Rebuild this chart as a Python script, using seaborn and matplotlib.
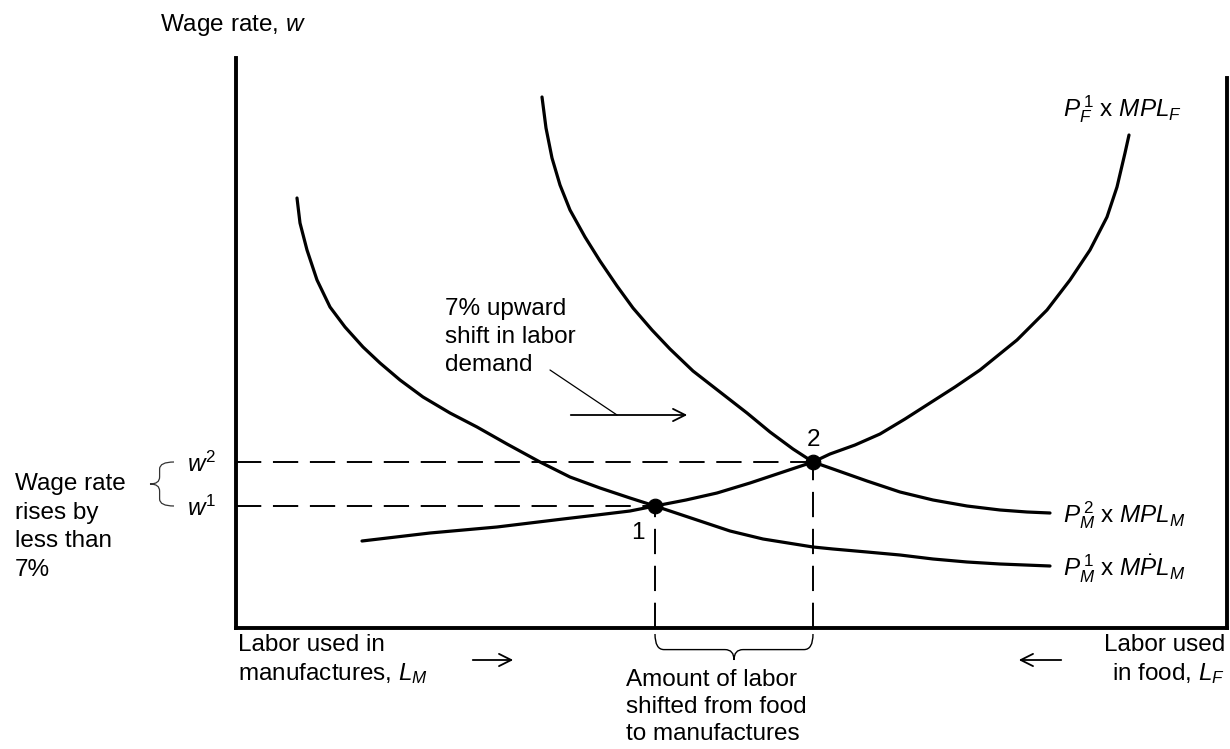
import matplotlib.pyplot as plt
from matplotlib.path import Path
from matplotlib.patches import PathPatch
import seaborn as sns

# Curve readings from the figure (x = labour, y = wage; arbitrary plot units)
food_L = [126, 194, 261, 327, 361, 394, 419, 450, 481, 514, 547, 577, 594, 619, 644, 669,
          694, 719, 744, 781, 811, 834, 854, 871, 881, 889, 893]
food_w = [87, 95, 101, 109, 113, 117, 122, 128, 135, 145, 156, 166, 174, 183, 194, 209,
          225, 241, 258, 288, 318, 348, 378, 411, 441, 475, 493]

manu1_L = [61, 64, 71, 81, 94, 109, 127, 144, 164, 187, 214, 241, 271, 304, 334, 364, 394,
           419, 461, 494, 527, 577, 597, 631, 664, 697, 731, 764, 814]
manu1_w = [430, 405, 378, 348, 321, 301, 281, 265, 248, 231, 215, 201, 184, 166, 151, 140, 130,
           122, 108, 97, 89, 81, 79, 76, 73, 69, 66, 64, 62]

manu2_L = [306, 310, 316, 324, 334, 349, 364, 381, 397, 416, 434, 457, 484, 511, 534, 557,
           577, 597, 631, 664, 697, 731, 764, 791, 814]
manu2_w = [531, 500, 470, 443, 418, 391, 367, 342, 320, 298, 279, 257, 236, 215, 196, 179,
           166, 159, 147, 136, 128, 122, 118, 116, 115]

# equilibria 1 and 2
eq_L = [419, 577]
eq_w = [122, 166]
eq_names = ["1", "2"]
w_labels = [r"$w^1$", r"$w^2$"]

sns.set_style("white")
plt.rcParams["font.family"] = ["Liberation Sans", "DejaVu Sans"]
plt.rcParams["text.color"] = "black"
plt.rcParams["ytick.color"] = "black"
plt.rcParams["mathtext.fontset"] = "custom"
plt.rcParams["mathtext.rm"] = "Liberation Sans"
plt.rcParams["mathtext.it"] = "Liberation Sans:italic"
plt.rcParams["mathtext.bf"] = "Liberation Sans:bold"

FS = 17.5
fig = plt.figure(figsize=(12.3, 7.49), dpi=100)
ax = fig.add_axes([236 / 1230, 121 / 749, 991 / 1230, 570 / 749])
ax.set_xlim(0, 991)
ax.set_ylim(0, 570)

# curves
for L, w in [(food_L, food_w), (manu1_L, manu1_w), (manu2_L, manu2_w)]:
    sns.lineplot(x=L, y=w, sort=False, estimator=None, color="black", lw=2.3, ax=ax)

# dashed guides
dash = (0, (13, 6))
ax.hlines(eq_w, 0, eq_L, colors="black", lw=1.4, linestyles=[dash])
ax.vlines(eq_L, 0, eq_w, colors="black", lw=1.4, linestyles=[dash])

sns.scatterplot(x=eq_L, y=eq_w, color="black", s=110, zorder=5, ax=ax, edgecolor="black")
ax.text(eq_L[0] - 17, eq_w[0] - 27, eq_names[0], fontsize=FS, ha="center", va="center")
ax.text(eq_L[1], eq_w[1] + 22, eq_names[1], fontsize=FS, ha="center", va="center")

# spines and ticks
ax.spines["top"].set_visible(False)
for s in ["left", "bottom", "right"]:
    ax.spines[s].set_linewidth(2.8)
    ax.spines[s].set_color("black")
ax.spines["right"].set_bounds(0, 550)
ax.set_xticks([])
ax.set_yticks(eq_w)
ax.set_yticklabels(w_labels, fontsize=FS)
ax.tick_params(axis="y", direction="inout", length=13, width=1.5, pad=8)

# curve labels
ax.text(827, 519, r"$P^{\,1}_{F}$ x $MPL_F$", fontsize=FS, va="center")
ax.text(827, 113, r"$P^{\,2}_{M}$ x $MPL_M$", fontsize=FS, va="center")
ax.text(827, 59, r"$P^{\,1}_{M}$ x $M\dot{P}L_M$", fontsize=FS, va="center")

# shift annotation
ax.text(209, 291, "7% upward\nshift in labor\ndemand", fontsize=FS, va="center", linespacing=1.38)
ax.plot([314, 381], [258, 213], color="black", lw=0.9)
ax.annotate("", xy=(454, 213), xytext=(332, 213),
            arrowprops=dict(arrowstyle="->", color="black", lw=1.3, mutation_scale=22))

# axis titles and notes
ax.text(-76, 603, r"Wage rate, $w$", fontsize=FS, va="center", clip_on=False)
ax.text(-221, 101, "Wage rate\nrises by\nless than\n7%", fontsize=FS, va="center",
        linespacing=1.38, clip_on=False)
ax.text(2, -32, "Labor used in\nmanufactures, $L_M$", fontsize=FS, va="center", linespacing=1.3)
ax.text(989, -32, "Labor used\nin food, $L_F$", fontsize=FS, va="center", ha="right", linespacing=1.3)
ax.text(390, -79, "Amount of labor\nshifted from food\nto manufactures", fontsize=FS,
        va="center", linespacing=1.3)
ax.annotate("", xy=(280, -32), xytext=(234, -32), annotation_clip=False,
            arrowprops=dict(arrowstyle="->", color="black", lw=1.3, mutation_scale=22))
ax.annotate("", xy=(780, -32), xytext=(828, -32), annotation_clip=False,
            arrowprops=dict(arrowstyle="->", color="black", lw=1.3, mutation_scale=22))


def brace_path(a, b, base, depth, horizontal=True, r=9):
    m = (a + b) / 2
    y1 = base - depth * 0.6
    y2 = base - depth
    pts = [(a, base), (a, y1), (a + r, y1), (m - r, y1), (m, y1), (m, y2),
           (m, y1), (m + r, y1), (b - r, y1), (b, y1), (b, base)]
    codes = [Path.MOVETO, Path.CURVE3, Path.CURVE3, Path.LINETO, Path.CURVE3, Path.CURVE3,
             Path.CURVE3, Path.CURVE3, Path.LINETO, Path.CURVE3, Path.CURVE3]
    if not horizontal:
        pts = [(y, x) for x, y in pts]
    return Path(pts, codes)


ax.add_patch(PathPatch(brace_path(eq_L[0], eq_L[1], -6, 26), fill=False,
                       lw=1.0, color="black", clip_on=False))
ax.add_patch(PathPatch(brace_path(eq_w[0], eq_w[1], -62, 24, horizontal=False, r=7), fill=False,
                       lw=0.9, color="#333333", clip_on=False))

fig.savefig("out.png", dpi=100)
